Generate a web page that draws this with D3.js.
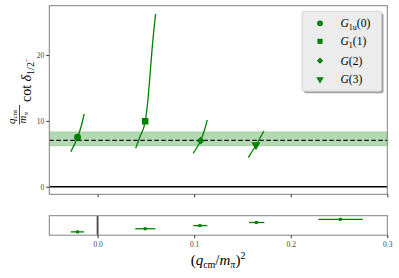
<!DOCTYPE html>
<html>
<head>
<meta charset="utf-8">
<script src="https://cdn.jsdelivr.net/npm/d3@7"></script>
<style>
  body { margin: 0; background: #fff; }
  text { font-family: "Liberation Serif", "DejaVu Serif", serif; }
</style>
</head>
<body>
<div id="chart"></div>
<script>
// levels in the finite volume, one curve + marker each
var levelLabels = [["G", "1u", "(0)"], ["G", "1", "(1)"], ["G", "", "(2)"], ["G", "", "(3)"]]
var levelSymbols = [d3.symbolCircle, d3.symbolSquare, d3.symbolSquare, d3.symbolTriangle]
var pointQ2 = [-0.0207, 0.0493, 0.1067, 0.1640]
var pointVal = [7.51, 9.94, 6.99, 6.34]

// error curves
var curve0 = [[-0.0277, 5.32], [-0.0240, 6.40], [-0.0207, 7.51], [-0.0166, 9.38], [-0.0139, 11.05]]
var curve1 = [[0.0394, 5.84], [0.0438, 7.55], [0.0493, 9.94], [0.0521, 13.18], [0.0547, 17.74], [0.0568, 21.53], [0.0601, 26.25]]
var curve2 = [[0.0991, 5.08], [0.1030, 6.00], [0.1067, 6.99], [0.1107, 8.62], [0.1136, 10.14]]
var curve3 = [[0.1561, 4.41], [0.1600, 5.35], [0.1640, 6.34], [0.1682, 7.40], [0.1723, 8.47]]
var curves = [curve0, curve1, curve2, curve3]

// effective range fit
var fitCenter = 7.05
var fitLow = 6.2
var fitHigh = 8.35

// bottom panel: q^2 of each level with its spread
var q2Center = [-0.0207, 0.0493, 0.1060, 0.1644, 0.2514]
var q2Low = [-0.0277, 0.0390, 0.0990, 0.1568, 0.2286]
var q2High = [-0.0139, 0.0597, 0.1136, 0.1727, 0.2746]
var levelIndex = [0, 1, 2, 3, 4]

var xTicks = [0.0, 0.1, 0.2, 0.3]
var yTicks = [0, 10, 20]

var width = 399, height = 278
var green = "#008000"
var spine = "#808080"

var svg = d3.select("#chart").append("svg")
    .attr("width", width)
    .attr("height", height)

var main = { left: 49.3, right: 387.3, top: 5.7, bottom: 194.3 }
var sub = { top: 215.7, bottom: 235.2 }

var x = d3.scaleLinear().domain([-0.05, 0.3]).range([main.left, main.right])
var y = d3.scaleLinear().domain([-1.15, 27.5]).range([main.bottom, main.top])
var yb = d3.scaleLinear().domain([-1.06, 5.16]).range([sub.bottom, sub.top])

svg.append("defs").append("clipPath").attr("id", "clipMain")
    .append("rect")
    .attr("x", main.left).attr("y", main.top)
    .attr("width", main.right - main.left).attr("height", main.bottom - main.top)

var plot = svg.append("g").attr("clip-path", "url(#clipMain)")

// fit band + dashed central value
plot.append("rect")
    .attr("x", main.left).attr("width", main.right - main.left)
    .attr("y", y(fitHigh)).attr("height", y(fitLow) - y(fitHigh))
    .attr("fill", green).attr("fill-opacity", 0.3)
    .attr("stroke", green).attr("stroke-opacity", 0.15)

plot.append("line")
    .attr("x1", main.left).attr("x2", main.right)
    .attr("y1", y(fitCenter)).attr("y2", y(fitCenter))
    .attr("stroke", "#111").attr("stroke-width", 1.3)
    .attr("stroke-dasharray", "4.5,2.5")

// zero line
plot.append("line")
    .attr("x1", main.left).attr("x2", main.right)
    .attr("y1", y(0)).attr("y2", y(0))
    .attr("stroke", "#000").attr("stroke-width", 1.4)

var line = d3.line()
    .x(d => x(d[0]))
    .y(d => y(d[1]))
    .curve(d3.curveMonotoneX)

plot.append("g")
    .selectAll("path")
    .data(curves)
    .join("path")
    .attr("d", d => line(d))
    .attr("fill", "none")
    .attr("stroke", green)
    .attr("stroke-width", 1.3)

// diamond = square turned 45 degrees, triangle flipped to point down
function markerTransform(i) {
    return i == 3 ? " rotate(180)" : (i == 2 ? " rotate(45)" : "")
}

var symSizes = [38, 42, 30, 36]
plot.append("g")
    .selectAll("path")
    .data(pointQ2)
    .join("path")
    .attr("transform", (d, i) => "translate(" + x(d) + "," + y(pointVal[i]) + ")" + markerTransform(i))
    .attr("d", (d, i) => d3.symbol().type(levelSymbols[i]).size(symSizes[i])())
    .attr("fill", green)

// main axes frame
svg.append("rect")
    .attr("x", main.left).attr("y", main.top)
    .attr("width", main.right - main.left).attr("height", main.bottom - main.top)
    .attr("fill", "none").attr("stroke", spine).attr("stroke-width", 1)

var yAxis = svg.append("g")
    .attr("transform", "translate(" + main.left + ",0)")
    .call(d3.axisLeft(y).tickValues(yTicks).tickSize(3).tickPadding(2).tickFormat(d3.format("d")))
yAxis.select(".domain").remove()
yAxis.selectAll("text").attr("font-size", 7.5).attr("fill", "#444")
yAxis.selectAll("line").attr("stroke", "#333")

var xAxisMain = svg.append("g")
    .attr("transform", "translate(0," + main.bottom + ")")
    .call(d3.axisBottom(x).tickValues(xTicks).tickSize(3).tickFormat(""))
xAxisMain.select(".domain").remove()
xAxisMain.selectAll("line").attr("stroke", "#333")

// y label: q_cm/m_pi cot delta_{1/2^-}
var yl = svg.append("g").attr("transform", "translate(31,125) rotate(-90)")
var num = yl.append("text").attr("x", 1).attr("y", -16.5).attr("font-size", 11).attr("font-style", "italic")
num.append("tspan").text("q")
num.append("tspan").attr("dy", 2).attr("font-size", 7).attr("font-style", "normal").text("cm")
yl.append("line").attr("x1", 0.5).attr("x2", 20).attr("y1", -11.5).attr("y2", -11.5)
    .attr("stroke", "#000").attr("stroke-width", 0.7)
var den = yl.append("text").attr("x", 1.5).attr("y", -5).attr("font-size", 11).attr("font-style", "italic")
den.append("tspan").text("m")
den.append("tspan").attr("dy", 2).attr("font-size", 7).text("π")
var ct = yl.append("text").attr("x", 23).attr("y", 0).attr("font-size", 14)
ct.append("tspan").text("cot ")
ct.append("tspan").attr("font-style", "italic").text("δ")
ct.append("tspan").attr("dy", 3).attr("font-size", 10).text("1/2")
ct.append("tspan").attr("dy", -5).attr("font-size", 7).text("−")

// legend
var lg = svg.append("g").attr("transform", "translate(302,11.3)")
lg.append("rect").attr("x", 2).attr("y", 2).attr("width", 79.5).attr("height", 80)
    .attr("rx", 2).attr("fill", "#a0a0a0")
lg.append("rect").attr("width", 79.5).attr("height", 80)
    .attr("rx", 2).attr("fill", "#ececec").attr("stroke", "#cccccc").attr("stroke-width", 0.8)
var rows = [12, 30, 49.4, 68]
var legSizes = [26, 26, 20, 24]
levelLabels.forEach(function (lab, i) {
    lg.append("path")
        .attr("transform", "translate(18," + rows[i] + ")" + markerTransform(i))
        .attr("d", d3.symbol().type(levelSymbols[i]).size(legSizes[i])())
        .attr("fill", green)
    var t = lg.append("text").attr("x", 38.5).attr("y", rows[i] + 4).attr("font-size", 11.5)
    t.append("tspan").attr("font-style", "italic").text(lab[0])
    if (lab[1]) {
        t.append("tspan").attr("dy", 2.5).attr("font-size", 8).text(lab[1])
        t.append("tspan").attr("dy", -2.5).text(lab[2])
    } else {
        t.append("tspan").text(lab[2])
    }
})

// bottom panel
svg.append("line")
    .attr("x1", x(0)).attr("x2", x(0))
    .attr("y1", sub.top).attr("y2", sub.bottom)
    .attr("stroke", "#444").attr("stroke-width", 1.8)

var bars = svg.append("g")
bars.selectAll("line")
    .data(q2Center)
    .join("line")
    .attr("x1", (d, i) => x(q2Low[i]))
    .attr("x2", (d, i) => x(q2High[i]))
    .attr("y1", (d, i) => yb(levelIndex[i]))
    .attr("y2", (d, i) => yb(levelIndex[i]))
    .attr("stroke", green).attr("stroke-width", 1.3)
bars.selectAll("rect")
    .data(q2Center)
    .join("rect")
    .attr("x", d => x(d) - 1.5)
    .attr("y", (d, i) => yb(levelIndex[i]) - 1.5)
    .attr("width", 3).attr("height", 3)
    .attr("fill", green)

svg.append("rect")
    .attr("x", main.left).attr("y", sub.top)
    .attr("width", main.right - main.left).attr("height", sub.bottom - sub.top)
    .attr("fill", "none").attr("stroke", spine).attr("stroke-width", 1)

var xAxisSub = svg.append("g")
    .attr("transform", "translate(0," + sub.bottom + ")")
    .call(d3.axisBottom(x).tickValues(xTicks).tickSize(3).tickPadding(3).tickFormat(d3.format(".1f")))
xAxisSub.select(".domain").remove()
xAxisSub.selectAll("line").attr("stroke", "#333")
xAxisSub.selectAll("text").attr("font-size", 7.5).attr("fill", "#444")

// x label (q_cm/m_pi)^2
var xl = svg.append("text").attr("x", 218).attr("y", 265).attr("text-anchor", "middle").attr("font-size", 15)
xl.append("tspan").text("(")
xl.append("tspan").attr("font-style", "italic").text("q")
xl.append("tspan").attr("dy", 3).attr("font-size", 10).text("cm")
xl.append("tspan").attr("dy", -3).text("/")
xl.append("tspan").attr("font-style", "italic").text("m")
xl.append("tspan").attr("dy", 3).attr("font-size", 10).attr("font-style", "italic").text("π")
xl.append("tspan").attr("dy", -3).text(")")
xl.append("tspan").attr("dy", -6).attr("font-size", 10).text("2")
</script>
</body>
</html>
